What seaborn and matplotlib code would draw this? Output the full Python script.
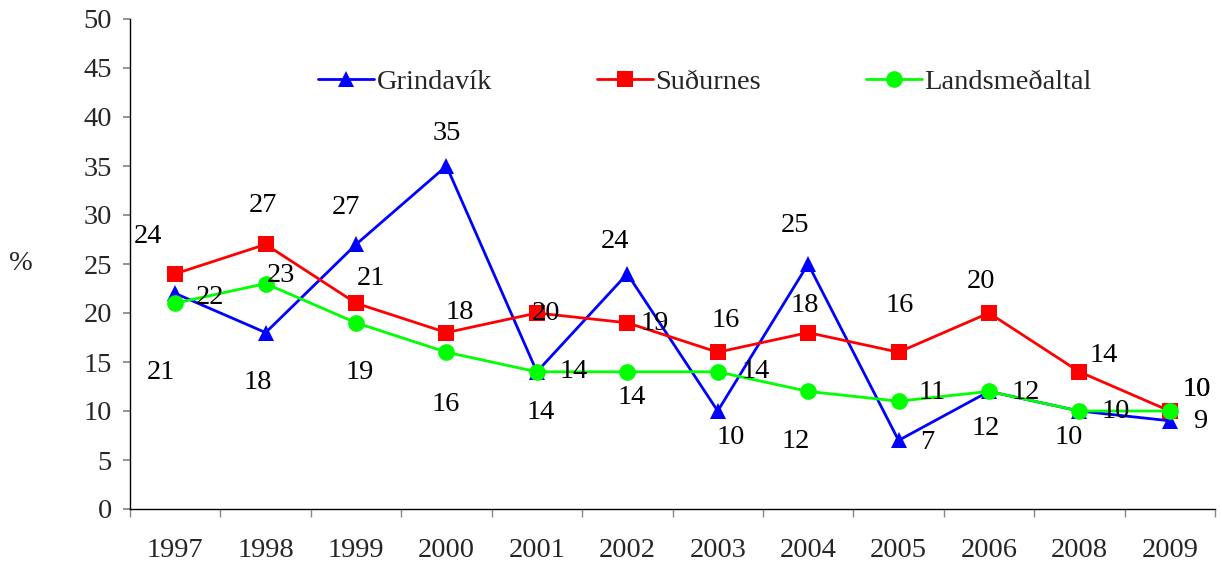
import pandas as pd
import matplotlib
matplotlib.use("Agg")
import matplotlib.pyplot as plt
import seaborn as sns

# Gögn lesin af myndinni
ar = ["1997", "1998", "1999", "2000", "2001", "2002", "2003", "2004", "2005", "2006", "2008", "2009"]
grindavik = [22, 18, 27, 35, 14, 24, 10, 25, 7, 12, 10, 9]
sudurnes = [24, 27, 21, 18, 20, 19, 16, 18, 16, 20, 14, 10]
landsmedaltal = [21, 23, 19, 16, 14, 14, 14, 12, 11, 12, 10, 10]
heiti = ["Grindavík", "Suðurnes", "Landsmeðaltal"]

# Staðsetning talnamerkja miðað við punkt (pixlar, y niður)
hlidrun_grindavik = [(35, 4), (-8, 50), (-10, -37), (0, -33), (4, 41), (-12, -32),
                     (13, 26), (-13, -39), (29, 2), (-3, 37), (-11, 26), (30, 1)]
hlidrun_sudurnes = [(-27, -37), (-3, -39), (15, -25), (13, -20), (9, 0), (27, 1),
                    (8, -32), (-3, -27), (1, -47), (-8, -31), (24, -16), (27, -22)]
hlidrun_lands = [(-14, 69), (15, -8), (4, 50), (-1, 52), (37, 0), (4, 26),
                 (38, 0), (-12, 50), (34, -9), (37, 1), (36, 1), (27, -22)]

sns.set_theme(style="white")
plt.rcParams["font.family"] = ["Liberation Serif", "DejaVu Serif"]
fs = 20.5

df = pd.DataFrame({
    "pos": list(range(len(ar))) * 3,
    "gildi": grindavik + sudurnes + landsmedaltal,
    "svaedi": [heiti[0]] * len(ar) + [heiti[1]] * len(ar) + [heiti[2]] * len(ar),
})

litir = ["#0000FF", "#FF0000", "#00FF00"]

fig = plt.figure(figsize=(12.22, 5.64), dpi=100)
ax = fig.add_axes([130 / 1222, 55 / 564, 1085 / 1222, 490 / 564])

sns.lineplot(data=df, x="pos", y="gildi", hue="svaedi", style="svaedi",
             markers=["^", "s", "o"], dashes=False, palette=litir,
             markersize=12, linewidth=2.0, markeredgewidth=0, ax=ax)

for gildi, hlidrun in [(grindavik, hlidrun_grindavik), (sudurnes, hlidrun_sudurnes),
                       (landsmedaltal, hlidrun_lands)]:
    for i, v in enumerate(gildi):
        dx, dy = hlidrun[i]
        ax.annotate(str(v), (i, v), xytext=(dx, -dy), textcoords="offset pixels",
                    ha="center", va="center", fontsize=fs, color="black")

ax.set_xlim(-0.5, len(ar) - 0.5)
ax.set_ylim(0, 50)
ax.set_yticks(range(0, 51, 5))
ax.set_xticks(range(len(ar)))
ax.set_xticklabels(ar)
ax.set_xticks([i - 0.5 for i in range(len(ar) + 1)], minor=True)
ax.tick_params(axis="x", which="major", length=0, pad=21, labelsize=fs)
ax.tick_params(axis="x", which="minor", length=6, color="#888888", direction="out", bottom=True)
ax.tick_params(axis="y", length=5, color="#888888", direction="out", left=True, pad=8, labelsize=fs)
for s in ["top", "right"]:
    ax.spines[s].set_visible(False)
for s in ["left", "bottom"]:
    ax.spines[s].set_color("black")
    ax.spines[s].set_linewidth(1.0)

ax.set_xlabel("")
ax.set_ylabel("%", rotation=0, fontsize=fs, va="center", ha="center")
ax.yaxis.set_label_coords(-0.101, 0.5)

handles, labels = ax.get_legend_handles_labels()
ax.legend(handles, labels, ncol=3, frameon=False, loc="center",
          bbox_to_anchor=(0.530, 0.871), handlelength=1.96, handletextpad=0.08,
          columnspacing=3.7, fontsize=fs)

fig.savefig("out.png", dpi=100, facecolor="white")
